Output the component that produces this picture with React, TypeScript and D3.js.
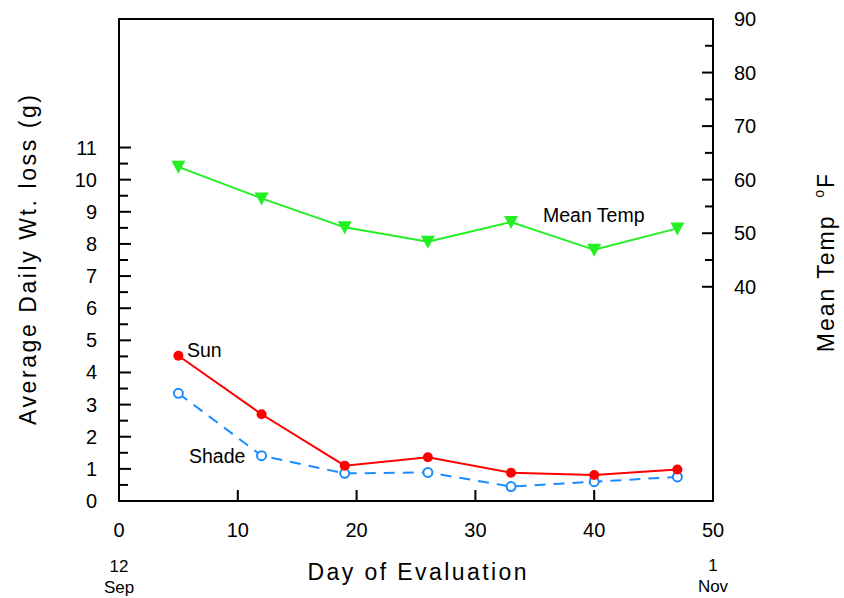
import React from "react";
import * as d3 from "d3";

const days = [5, 12, 19, 26, 33, 40, 47];
const sunLoss = [4.52, 2.7, 1.1, 1.36, 0.88, 0.81, 0.98];
const shadeLoss = [3.35, 1.41, 0.86, 0.89, 0.45, 0.6, 0.75];
const meanTemp = [62.4, 56.5, 51.1, 48.4, 52.1, 46.9, 50.9];

const xTicks = [0, 10, 20, 30, 40, 50];
const leftMajor = [0, 1, 2, 3, 4, 5, 6, 7, 8, 9, 10, 11];
const leftMinor = [0.5, 1.5, 2.5, 3.5, 4.5, 5.5, 6.5, 7.5, 8.5, 9.5, 10.5];
const rightMajor = [40, 50, 60, 70, 80, 90];
const rightMinor = [45, 55, 65, 75, 85];

const W = 844;
const H = 598;
const L = 119;
const R = 713;
const T = 19;
const B = 501;
const FONT = "'Liberation Sans', Arial, sans-serif";

export default function App() {
  const x = d3.scaleLinear().domain([0, 50]).range([L, R]);
  const yL = d3.scaleLinear().domain([0, 15]).range([B, T]);
  const yR = d3.scaleLinear().domain([0, 90]).range([B, T]);

  const lineLoss = d3
    .line<number>()
    .x((_, i) => x(days[i]))
    .y((d) => yL(d));
  const lineTemp = d3
    .line<number>()
    .x((_, i) => x(days[i]))
    .y((d) => yR(d));

  const red = "#ff0000";
  const blue = "#1a8cff";
  const green = "#22f022";

  return (
    <svg
      width={W}
      height={H}
      style={{ position: "absolute", left: 0, top: 0, background: "#fff" }}
      fontFamily={FONT}
    >
      <rect x={0} y={0} width={W} height={H} fill="#fff" />
      <rect x={L} y={T} width={R - L} height={B - T} fill="none" stroke="#000" strokeWidth={2} />

      {xTicks.map((t) => (
        <g key={"x" + t}>
          {t > 0 && t < 50 && <line x1={x(t)} x2={x(t)} y1={B} y2={B - 11} stroke="#000" strokeWidth={2} />}
          <text x={x(t)} y={537} fontSize={20} textAnchor="middle">
            {t}
          </text>
        </g>
      ))}
      <text x={x(0)} y={572} fontSize={17} textAnchor="middle">12</text>
      <text x={x(0)} y={593} fontSize={17} textAnchor="middle">Sep</text>
      <text x={x(50)} y={571} fontSize={17} textAnchor="middle">1</text>
      <text x={x(50)} y={592} fontSize={17} textAnchor="middle">Nov</text>

      {leftMajor.map((t) => (
        <g key={"l" + t}>
          {t > 0 && <line x1={L} x2={L + 12} y1={yL(t)} y2={yL(t)} stroke="#000" strokeWidth={2} />}
          <text x={97} y={yL(t) + 7} fontSize={20} textAnchor="end">
            {t}
          </text>
        </g>
      ))}
      {leftMinor.map((t) => (
        <line key={"lm" + t} x1={L} x2={L + 9} y1={yL(t)} y2={yL(t)} stroke="#000" strokeWidth={2} />
      ))}

      {rightMajor.map((t) => (
        <g key={"r" + t}>
          {t < 90 && <line x1={R} x2={R - 11} y1={yR(t)} y2={yR(t)} stroke="#000" strokeWidth={2} />}
          <text x={734} y={yR(t) + 7} fontSize={20} textAnchor="start">
            {t}
          </text>
        </g>
      ))}
      {rightMinor.map((t) => (
        <line key={"rm" + t} x1={R} x2={R - 8} y1={yR(t)} y2={yR(t)} stroke="#000" strokeWidth={2} />
      ))}

      <text
        transform={`translate(36,260) rotate(-90)`}
        fontSize={23}
        textAnchor="middle"
        textLength={330}
        lengthAdjust="spacing"
      >
        Average Daily Wt. loss (g)
      </text>
      <text
        transform={`translate(834,262) rotate(-90)`}
        fontSize={23}
        textAnchor="middle"
        letterSpacing={2}
        style={{ whiteSpace: "pre" }}
      >
        <tspan>{"Mean Temp  "}</tspan>
        <tspan fontSize={14} dy={-10}>o</tspan>
        <tspan dy={10}>F</tspan>
      </text>
      <text x={417} y={580} fontSize={23} textAnchor="middle" textLength={219} lengthAdjust="spacing">
        Day  of  Evaluation
      </text>

      <path d={lineTemp(meanTemp) || ""} fill="none" stroke={green} strokeWidth={2} />
      {meanTemp.map((v, i) => {
        const cx = x(days[i]);
        const cy = yR(v);
        return (
          <path
            key={"t" + i}
            d={`M${cx - 7},${cy - 6}L${cx + 7},${cy - 6}L${cx},${cy + 7}Z`}
            fill={green}
          />
        );
      })}

      <path d={lineLoss(shadeLoss) || ""} fill="none" stroke={blue} strokeWidth={2} strokeDasharray="11,8" />
      {shadeLoss.map((v, i) => (
        <circle key={"s" + i} cx={x(days[i])} cy={yL(v)} r={4.5} fill="#fff" stroke={blue} strokeWidth={2} />
      ))}

      <path d={lineLoss(sunLoss) || ""} fill="none" stroke={red} strokeWidth={2} />
      {sunLoss.map((v, i) => (
        <circle key={"u" + i} cx={x(days[i])} cy={yL(v)} r={5} fill={red} />
      ))}

      <text x={187} y={357} fontSize={19.5}>Sun</text>
      <text x={189} y={463} fontSize={19.5}>Shade</text>
      <text x={543} y={222} fontSize={19.5}>Mean Temp</text>
    </svg>
  );
}
